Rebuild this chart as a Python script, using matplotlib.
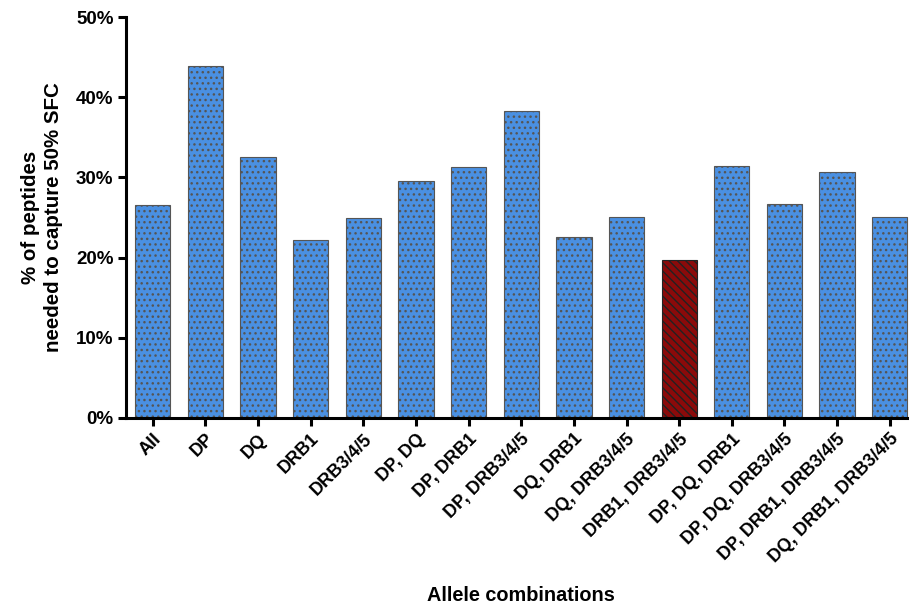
import matplotlib
matplotlib.use("Agg")
import matplotlib.pyplot as plt
from matplotlib.ticker import FuncFormatter

categories = ["All", "DP", "DQ", "DRB1", "DRB3/4/5", "DP, DQ", "DP, DRB1", "DP, DRB3/4/5",
              "DQ, DRB1", "DQ, DRB3/4/5", "DRB1, DRB3/4/5", "DP, DQ, DRB1",
              "DP, DQ, DRB3/4/5", "DP, DRB1, DRB3/4/5", "DQ, DRB1, DRB3/4/5"]
values = [26.6, 43.9, 32.5, 22.2, 24.9, 29.6, 31.3, 38.3, 22.6, 25.1, 19.7, 31.4, 26.7, 30.7, 25.1]
highlight = "DRB1, DRB3/4/5"

plt.rcParams['font.family'] = ['Liberation Sans', 'DejaVu Sans']
plt.rcParams['hatch.linewidth'] = 1.0

fig = plt.figure(figsize=(9.09, 6.10), dpi=100)
ax = fig.add_axes([0.1386, 0.3148, 0.861, 0.6572])

x = list(range(len(categories)))
for xi, cat, v in zip(x, categories, values):
    if cat == highlight:
        ax.bar(xi, v, width=0.67, color="#8b0a0a", edgecolor="#222222", hatch="\\\\\\\\", linewidth=0.8)
    else:
        ax.bar(xi, v, width=0.67, color="#4a90e2", edgecolor="#555555", hatch="...", linewidth=0.8)

ax.set_xlim(-0.51, 14.36)
ax.set_ylim(0, 50)
ax.set_yticks([0, 10, 20, 30, 40, 50])
ax.yaxis.set_major_formatter(FuncFormatter(lambda v, p: f"{int(v)}%"))
ax.set_xticks(x)
ax.set_xticklabels(categories, rotation=45, ha="right", rotation_mode="anchor",
                   fontsize=13, fontweight="bold")
for lab in ax.get_yticklabels():
    lab.set_fontsize(13.5)
    lab.set_fontweight("bold")

for s in ["top", "right"]:
    ax.spines[s].set_visible(False)
for s in ["left", "bottom"]:
    ax.spines[s].set_linewidth(2.2)
ax.tick_params(axis="both", width=2.2, length=6, direction="out", pad=3)

ax.set_ylabel("% of peptides\nneeded to capture 50% SFC", fontsize=14.8, fontweight="bold",
              linespacing=1.3, labelpad=9)
fig.text(0.573, 0.023, "Allele combinations", ha="center", va="center",
         fontsize=14.3, fontweight="bold")

fig.savefig("out.png", dpi=100)
